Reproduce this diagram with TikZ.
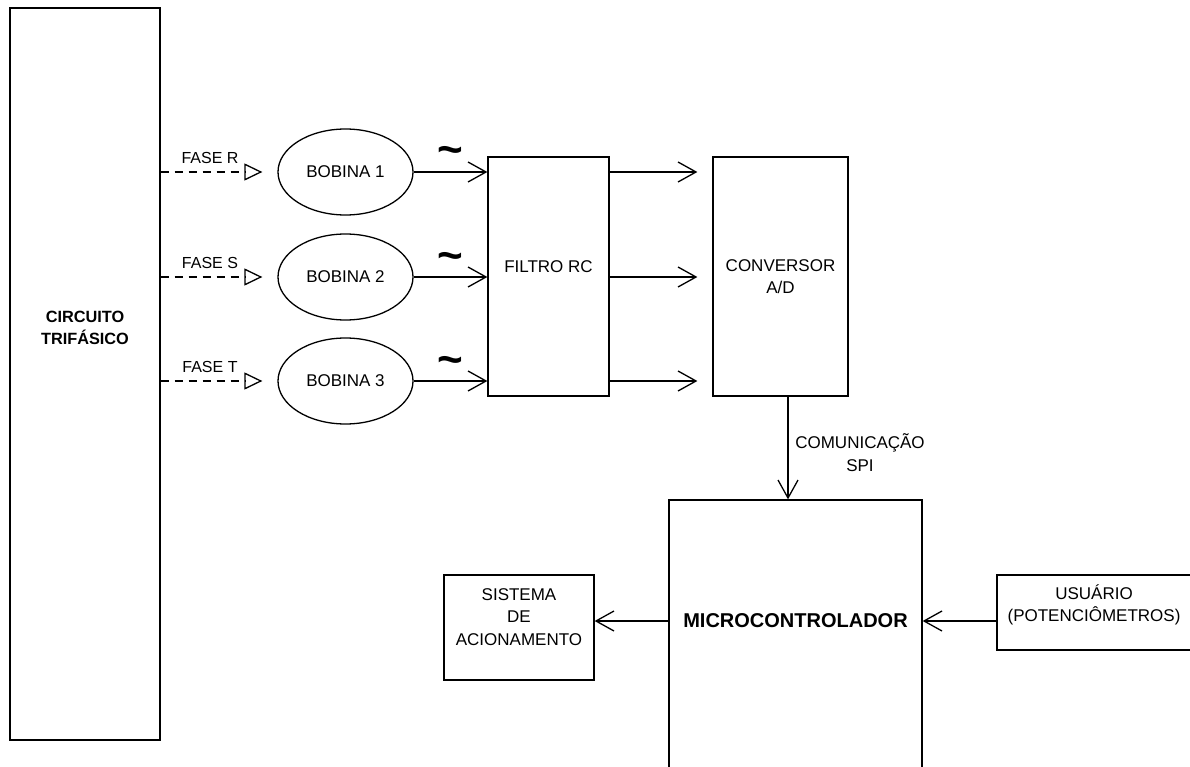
\documentclass[tikz,border=0pt]{standalone}
\usepackage{fontspec}
\setmainfont{Liberation Sans}
\usetikzlibrary{arrows.meta,shapes.geometric}

\tikzset{
  box/.style={draw, line width=1.3pt, rectangle, inner sep=0pt},
  bob/.style={draw, line width=1.3pt, ellipse, minimum width=135pt, minimum height=86pt, inner sep=0pt, font=\fontsize{17}{20}\selectfont},
  txt/.style={font=\fontsize{17}{22.5}\selectfont, align=center, inner sep=0pt},
  seta/.style={line width=1.3pt, -{Straight Barb[length=18pt,width=20pt,line width=1.3pt]}},
  fase/.style={line width=1.3pt, dash pattern=on 8pt off 6pt, -{Triangle[open,length=18pt,width=17pt,line width=1.3pt]}},
  fasetxt/.style={font=\fontsize{16}{19}\selectfont, inner sep=0pt, above=8pt},
  onda/.style={font=\bfseries\fontsize{44}{44}\selectfont, inner sep=0pt, anchor=base, yshift=7pt}
}

\begin{document}
\begin{tikzpicture}[x=1pt,y=-1pt]
\path[use as bounding box, clip] (0,0) rectangle (1190,767);

% blocos
\node[box, minimum width=150pt, minimum height=732pt] (circ) at (85,374) {};
\node[txt, font=\bfseries\fontsize{16.3}{22}\selectfont] (circtxt) at (85,328) {CIRCUITO\\TRIFÁSICO};

\node[bob] (b1) at (345.5,172) {BOBINA 1};
\node[bob] (b2) at (345.5,277) {BOBINA 2};
\node[bob] (b3) at (345.5,381) {BOBINA 3};

\node[box, minimum width=121pt, minimum height=239pt,
  label={[txt,yshift=10pt]center:FILTRO RC}] (filtro) at (548.5,276.5) {};
\node[box, txt, minimum width=135pt, minimum height=239pt] (conv) at (780.5,276.5) {CONVERSOR\\A/D};

\node[box, minimum width=253pt, minimum height=280pt,
  label={[name=mtxt, inner sep=0pt, font=\bfseries\fontsize{20}{24}\selectfont, yshift=19pt]center:MICROCONTROLADOR}] (micro) at (795.5,640) {};
\node[box, minimum width=150pt, minimum height=105pt,
  label={[txt,yshift=10.5pt]center:{SISTEMA\\DE\\ACIONAMENTO}}] (sis) at (519,627.5) {};
\node[box, minimum width=194pt, minimum height=75pt,
  label={[txt,yshift=7.5pt]center:{USUÁRIO\\(POTENCIÔMETROS)}}] (usr) at (1094,612.5) {};

\node[txt] (spi) at (860,452.5) {COMUNICAÇÃO\\SPI};

% ligacoes
\foreach \b/\f in {b1/R,b2/S,b3/T} {
  \draw[fase] (circ.east |- \b) -- node[fasetxt, pos=0.485] {FASE \f} ([xshift=-15pt]\b.west);
  \draw[seta] (\b.east) -- node[onda] {\textasciitilde} (filtro.west |- \b);
  \draw[seta, shorten >=15pt] (filtro.east |- \b) -- (conv.west |- \b);
}
\draw[seta] ([xshift=7.5pt]conv.south) -- ([xshift=-7.5pt]micro.north);
\draw[seta] (micro.west |- mtxt) -- (sis.east |- mtxt);
\draw[seta] (usr.west |- mtxt) -- (micro.east |- mtxt);
\end{tikzpicture}
\end{document}
